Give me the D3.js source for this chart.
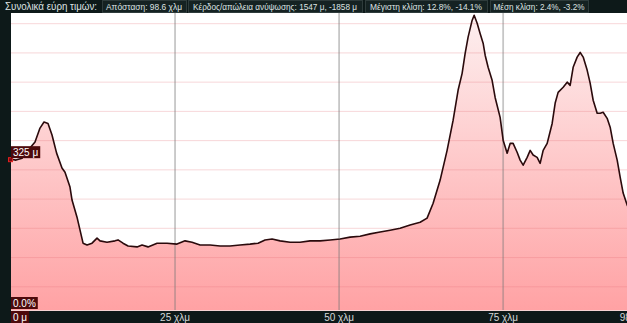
<!DOCTYPE html>
<html>
<head>
<meta charset="utf-8">
<script src="https://cdn.jsdelivr.net/npm/d3@7"></script>
<style>
  body { margin: 0; background: #0d1919; overflow: hidden; }
  text { font-family: "Liberation Sans", Arial, sans-serif; }
</style>
</head>
<body>
<div class="chart"></div>
<script>
// distance along the route (km) and elevation (m)
let distKm = [0, 0.76, 1.68, 2.59, 3.66, 4.42, 5.03, 5.64, 6.25, 6.95, 7.77, 8.23, 8.99, 9.30, 10.06,
	10.52, 10.98, 11.59, 12.35, 13.11, 13.57, 14.63, 15.85, 16.31, 17.07, 17.84, 19.21, 19.97, 20.88,
	22.26, 23.78, 25.30, 26.52, 27.59, 28.81, 30.34, 31.86, 33.38, 34.91, 36.43, 37.65, 38.72, 39.79,
	41.01, 42.53, 44.05, 45.58, 47.10, 48.63, 50.15, 51.68, 53.20, 54.73, 56.25, 57.77, 59.30, 60.82,
	62.35, 63.41, 64.33, 65.40, 66.46, 67.38, 68.14, 68.75, 69.21, 69.66, 70.27, 70.58, 71.04, 71.49,
	71.95, 72.26, 72.71, 73.32, 73.78, 74.54, 75.00, 75.61, 76.07, 76.52, 77.13, 77.59, 78.05, 78.66,
	79.12, 79.57, 80.18, 80.64, 81.10, 81.71, 82.47, 82.93, 83.38, 84.15, 84.76, 85.21, 85.67, 86.28,
	86.74, 87.20, 87.80, 88.26, 88.72, 89.33, 89.79, 90.24, 90.85, 91.31, 91.77, 92.38, 92.84, 93.29,
	93.90, 96.0, 98.6];
let elevM = [325, 323, 327, 344, 362, 392, 405, 402, 377, 338, 306, 297, 265, 237, 200,
	172, 144, 140, 144, 155, 149, 146, 149, 151, 144, 138, 136, 140, 136,
	144, 144, 142, 149, 146, 140, 140, 138, 138, 140, 142, 144, 151, 153,
	149, 146, 146, 149, 149, 151, 153, 157, 159, 164, 168, 172, 176, 183,
	189, 198, 230, 280, 344, 409, 474, 510, 553, 588, 624, 635, 618, 596,
	575, 549, 523, 495, 458, 415, 366, 338, 359, 359, 340, 323, 312, 329,
	344, 334, 329, 316, 344, 359, 402, 446, 469, 480, 491, 484, 523, 545,
	555, 545, 517, 489, 452, 424, 424, 426, 413, 394, 359, 323, 286, 252,
	226, 175, 150];

let totalKm = 98.6;
let xTicks = [25, 50, 75];
let xTickLabels = ['25 χλμ', '50 χλμ', '75 χλμ'];
let startLabel = '0 μ';
let endLabel = '98.6 χλμ';
let gridElev = [50, 113, 176, 239, 302, 365, 428, 491, 554, 617];
let startElevLabel = '325 μ';
let gradeLabel = '0.0%';

let headerTitle = 'Συνολικά εύρη τιμών:';
let headerItems = ['Απόσταση: 98.6 χλμ', 'Κέρδος/απώλεια ανύψωσης: 1547 μ, -1858 μ',
	'Μέγιστη κλίση: 12.8%, -14.1%', 'Μέση κλίση: 2.4%, -3.2%'];

let W = 627, H = 323;
let plot = {left: 11, top: 13, bottom: 310, right: 658};
// header box placement: [box x, box width, text width]
let headerBoxes = [[102, 84, 76], [188, 174, 164], [365, 122, 112], [490, 98, 91]];

let svg = d3.select('.chart')
	.append('svg')
	.attr('width', W)
	.attr('height', H)
	.style('display', 'block');

let xScale = d3.scaleLinear()
	.domain([0, totalKm])
	.range([plot.left, plot.right]);

let yScale = d3.scaleLinear()
	.domain([0, 640])
	.range([plot.bottom, plot.top]);

let data = distKm.map((d, i) => ({km: d, m: elevM[i]}));

let defs = svg.append('defs');
let grad = defs.append('linearGradient')
	.attr('id', 'fillGrad')
	.attr('gradientUnits', 'userSpaceOnUse')
	.attr('x1', 0).attr('x2', 0)
	.attr('y1', plot.top).attr('y2', plot.bottom);
grad.append('stop').attr('offset', '0%').attr('stop-color', '#fdf0f0');
grad.append('stop').attr('offset', '100%').attr('stop-color', '#ffa2a4');

defs.append('clipPath').attr('id', 'plotClip')
	.append('rect')
	.attr('x', plot.left).attr('y', plot.top)
	.attr('width', plot.right - plot.left).attr('height', plot.bottom - plot.top);

// plot background
svg.append('rect')
	.attr('x', plot.left).attr('y', plot.top)
	.attr('width', W - plot.left).attr('height', plot.bottom - plot.top)
	.style('fill', '#ffffff');

let g = svg.append('g').attr('clip-path', 'url(#plotClip)');

let area = d3.area()
	.x(d => xScale(d.km))
	.y0(plot.bottom)
	.y1(d => yScale(d.m));

g.append('path')
	.datum(data)
	.attr('d', area)
	.style('fill', 'url(#fillGrad)');

// horizontal grid
g.selectAll('.hgrid')
	.data(gridElev)
	.enter()
	.append('line')
	.attr('x1', plot.left).attr('x2', W)
	.attr('y1', d => yScale(d)).attr('y2', d => yScale(d))
	.style('stroke', 'rgba(225, 110, 120, 0.28)')
	.style('stroke-width', 1);

// vertical grid
g.selectAll('.vgrid')
	.data(xTicks)
	.enter()
	.append('line')
	.attr('x1', d => xScale(d)).attr('x2', d => xScale(d))
	.attr('y1', plot.top).attr('y2', plot.bottom)
	.style('stroke', 'rgba(120, 120, 120, 0.42)')
	.style('stroke-width', 1.8);

let line = d3.line()
	.x(d => xScale(d.km))
	.y(d => yScale(d.m));

g.append('path')
	.datum(data)
	.attr('d', line)
	.style('fill', 'none')
	.style('stroke', '#2a0a0c')
	.style('stroke-width', 1.6)
	.style('stroke-linejoin', 'round');

// bottom edge
svg.append('line')
	.attr('x1', plot.left).attr('x2', W)
	.attr('y1', plot.bottom + 0.5).attr('y2', plot.bottom + 0.5)
	.style('stroke', '#f5d3d3');

// x axis labels
let axisY = 321;
svg.selectAll('.xlab')
	.data(xTicks)
	.enter()
	.append('text')
	.attr('x', d => xScale(d))
	.attr('y', axisY)
	.attr('text-anchor', 'middle')
	.style('font-size', '10px')
	.style('fill', '#d4d8d8')
	.text((d, i) => xTickLabels[i]);

svg.append('text')
	.attr('x', xScale(totalKm))
	.attr('y', axisY)
	.attr('text-anchor', 'end')
	.style('font-size', '10px')
	.style('fill', '#d4d8d8')
	.text(endLabel);

// tag boxes (dark red with white text)
function tag(x, y, h, label) {
	let t = svg.append('text')
		.attr('x', x + 2)
		.attr('y', y + h - 2.5)
		.style('font-size', '10px')
		.style('fill', '#ffffff')
		.text(label);
	let w = t.node().getComputedTextLength() + 4;
	svg.insert('rect', function() { return t.node(); })
		.attr('x', x).attr('y', y)
		.attr('width', w).attr('height', h)
		.style('fill', '#4d0a0c');
}

tag(xScale(0), 311, 12, startLabel);
tag(xScale(0), 297, 12, gradeLabel);

// start elevation marker
svg.append('rect')
	.attr('x', 8.5).attr('y', yScale(elevM[0]) - 1.5)
	.attr('width', 4).attr('height', 4)
	.style('fill', '#7a0c10')
	.style('stroke', '#e02020')
	.style('stroke-width', 1);
tag(xScale(0), yScale(elevM[0]) - 13, 12, startElevLabel);

// header
let header = svg.append('g');
header.append('text')
	.attr('x', 5).attr('y', 10)
	.attr('textLength', 92)
	.attr('lengthAdjust', 'spacingAndGlyphs')
	.style('font-size', '10px')
	.style('fill', '#dfe3e3')
	.text(headerTitle);
headerItems.forEach(function(s, i) {
	let b = headerBoxes[i];
	header.append('rect')
		.attr('x', b[0] + 0.5).attr('y', 0.5)
		.attr('width', b[1]).attr('height', 12)
		.style('fill', '#152222')
		.style('stroke', '#2e3b3b');
	header.append('text')
		.attr('x', b[0] + (b[1] - b[2]) / 2).attr('y', 10)
		.attr('textLength', b[2])
		.attr('lengthAdjust', 'spacingAndGlyphs')
		.style('font-size', '9px')
		.style('fill', '#dfe3e3')
		.text(s);
});
</script>
</body>
</html>
